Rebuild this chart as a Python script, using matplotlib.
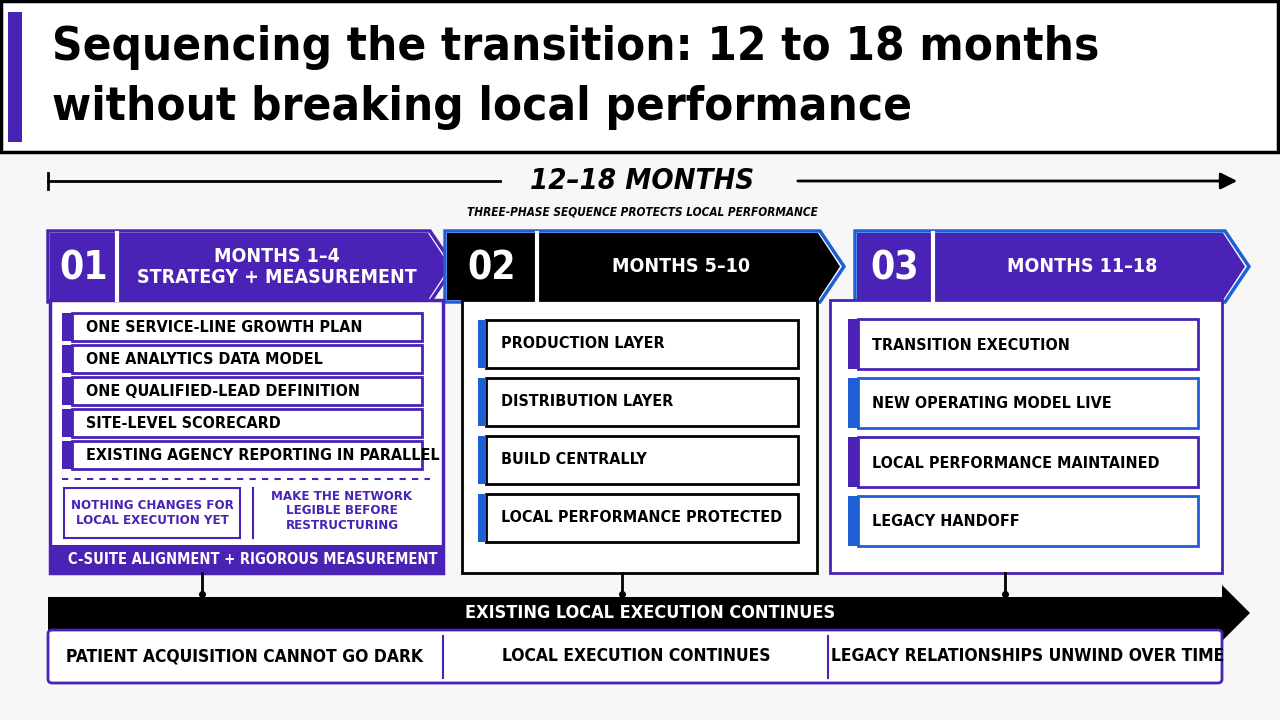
import matplotlib.pyplot as plt
from matplotlib.patches import Rectangle, Polygon, FancyBboxPatch

PURPLE = "#4a22b5"
BLUE = "#1e5fd8"
BLACK = "#000000"
BG = "#f7f7f8"

title_lines = ["Sequencing the transition: 12 to 18 months",
               "without breaking local performance"]
span_label = "12\u201318 MONTHS"
span_sub = "THREE-PHASE SEQUENCE PROTECTS LOCAL PERFORMANCE"

phase_nums = ["01", "02", "03"]
phase_heads = ["MONTHS 1\u20134\nSTRATEGY + MEASUREMENT", "MONTHS 5\u201310", "MONTHS 11\u201318"]
phase1_items = ["ONE SERVICE-LINE GROWTH PLAN", "ONE ANALYTICS DATA MODEL",
                "ONE QUALIFIED-LEAD DEFINITION", "SITE-LEVEL SCORECARD",
                "EXISTING AGENCY REPORTING IN PARALLEL"]
phase1_notes = ["NOTHING CHANGES FOR\nLOCAL EXECUTION YET",
                "MAKE THE NETWORK\nLEGIBLE BEFORE\nRESTRUCTURING"]
phase1_footer = "C-SUITE ALIGNMENT + RIGOROUS MEASUREMENT"
phase2_items = ["PRODUCTION LAYER", "DISTRIBUTION LAYER", "BUILD CENTRALLY",
                "LOCAL PERFORMANCE PROTECTED"]
phase3_items = ["TRANSITION EXECUTION", "NEW OPERATING MODEL LIVE",
                "LOCAL PERFORMANCE MAINTAINED", "LEGACY HANDOFF"]
band_label = "EXISTING LOCAL EXECUTION CONTINUES"
bottom_cells = ["PATIENT ACQUISITION CANNOT GO DARK", "LOCAL EXECUTION CONTINUES",
                "LEGACY RELATIONSHIPS UNWIND OVER TIME"]

plt.rcParams['font.family'] = ["DejaVu Sans"]
plt.rcParams['font.stretch'] = "condensed"

fig = plt.figure(figsize=(12.8, 7.2), dpi=100, facecolor=BG)
ax = fig.add_axes([0, 0, 1, 1])
ax.set_xlim(0, 1280)
ax.set_ylim(720, 0)
ax.axis("off")


def rect(x0, y0, x1, y1, fc="none", ec="none", lw=2, **kw):
    ax.add_patch(Rectangle((x0, y0), x1 - x0, y1 - y0, fc=fc, ec=ec, lw=lw, **kw))


def chevron(x0, x1, y0, y1, tip=22):
    ym = (y0 + y1) / 2
    return [(x0, y0), (x1 - tip, y0), (x1, ym), (x1 - tip, y1), (x0, y1)]


def txt(x, y, s, size, **kw):
    kw.setdefault("fontweight", "bold")
    kw.setdefault("va", "center")
    kw.setdefault("fontstretch", "condensed")
    ax.text(x, y, s, fontsize=size, **kw)


# title
rect(1, 1, 1278, 152, fc="white", ec=BLACK, lw=2.5)
rect(8, 12, 22, 142, fc=PURPLE)
for i, line in enumerate(title_lines):
    txt(52, 48 + i * 60, line, 34)

# span timeline
ax.plot([48, 500], [181, 181], color=BLACK, lw=2)
ax.plot([48, 48], [173, 189], color=BLACK, lw=2)
ax.annotate("", xy=(1240, 181), xytext=(795, 181),
            arrowprops=dict(arrowstyle="-|>", color=BLACK, lw=2, mutation_scale=25))
txt(642, 181, span_label, 21, style="italic", ha="center")
txt(642, 212, span_sub, 8.5, style="italic", ha="center")

# phase headers
heads = [(50, 450, 117, PURPLE, PURPLE), (447, 840, 537, BLACK, BLUE), (857, 1245, 933, PURPLE, BLUE)]
for (x0, x1, xn, col, outline), num, head in zip(heads, phase_nums, phase_heads):
    ax.add_patch(Polygon(chevron(x0 - 2, x1 + 4, 231, 302, 24), closed=True,
                         fc="white", ec=outline, lw=2.5))
    ax.add_patch(Polygon(chevron(x0, x1, 233, 300, 22), closed=True, fc=col, ec="none"))
    ax.plot([xn, xn], [233, 300], color="white", lw=3)
    txt((x0 + xn) / 2, 268, num, 28, color="white", ha="center")
    txt((xn + x1 - 22) / 2 + 4, 267, head, 14, color="white", ha="center", linespacing=1.1)

# phase 1 body
rect(50, 300, 443, 573, fc="white", ec=PURPLE, lw=2.5)
for i, item in enumerate(phase1_items):
    y0 = 313 + i * 32
    rect(72, y0, 422, y0 + 28, fc="white", ec=PURPLE, lw=2)
    rect(62, y0, 72, y0 + 28, fc=PURPLE)
    txt(86, y0 + 14, item, 11.5)
ax.plot([62, 430], [479, 479], color=PURPLE, lw=1.5, ls=(0, (3, 3)))
rect(64, 488, 240, 538, fc="white", ec=PURPLE, lw=1.5)
txt(152, 513, phase1_notes[0], 9.5, color=PURPLE, ha="center", linespacing=1.2)
ax.plot([253, 253], [488, 538], color=PURPLE, lw=1.5)
txt(342, 511, phase1_notes[1], 9.5, color=PURPLE, ha="center", linespacing=1.15)
rect(50, 545, 443, 573, fc=PURPLE)
txt(68, 559, phase1_footer, 10.5, color="white")

# phase 2 body
rect(462, 300, 817, 573, fc="white", ec=BLACK, lw=2)
for i, item in enumerate(phase2_items):
    y0 = 320 + i * 58
    rect(486, y0, 798, y0 + 48, fc="white", ec=BLACK, lw=2)
    rect(478, y0, 486, y0 + 48, fc=BLUE)
    txt(501, y0 + 24, item, 11.5)

# phase 3 body
rect(830, 300, 1222, 573, fc="white", ec=PURPLE, lw=2)
for i, item in enumerate(phase3_items):
    y0 = 319 + i * 59
    col = PURPLE if i % 2 == 0 else BLUE
    rect(858, y0, 1198, y0 + 50, fc="white", ec=col, lw=2)
    rect(848, y0, 858, y0 + 50, fc=col)
    txt(872, y0 + 26, item, 11.5)

# connectors
for x in [202, 622, 1005]:
    ax.plot([x, x], [573, 597], color=BLACK, lw=2)
    ax.plot(x, 594, "o", color=BLACK, ms=4)

# band arrow
ax.add_patch(Polygon([(48, 597), (1222, 597), (1222, 585), (1250, 613), (1222, 641),
                      (1222, 630), (48, 630)], closed=True, fc=BLACK, ec="none"))
txt(650, 613, band_label, 13, color="white", ha="center")

# bottom cells
ax.add_patch(FancyBboxPatch((48, 630), 1174, 53, boxstyle="round,pad=0,rounding_size=4",
                            fc="white", ec=PURPLE, lw=2))
for x in [443, 828]:
    ax.plot([x, x], [636, 678], color=PURPLE, lw=1.5)
for xc, lab in zip([245, 636, 1028], bottom_cells):
    txt(xc, 656, lab, 12.5, ha="center")

fig.savefig("out.png", dpi=100, facecolor=BG)
